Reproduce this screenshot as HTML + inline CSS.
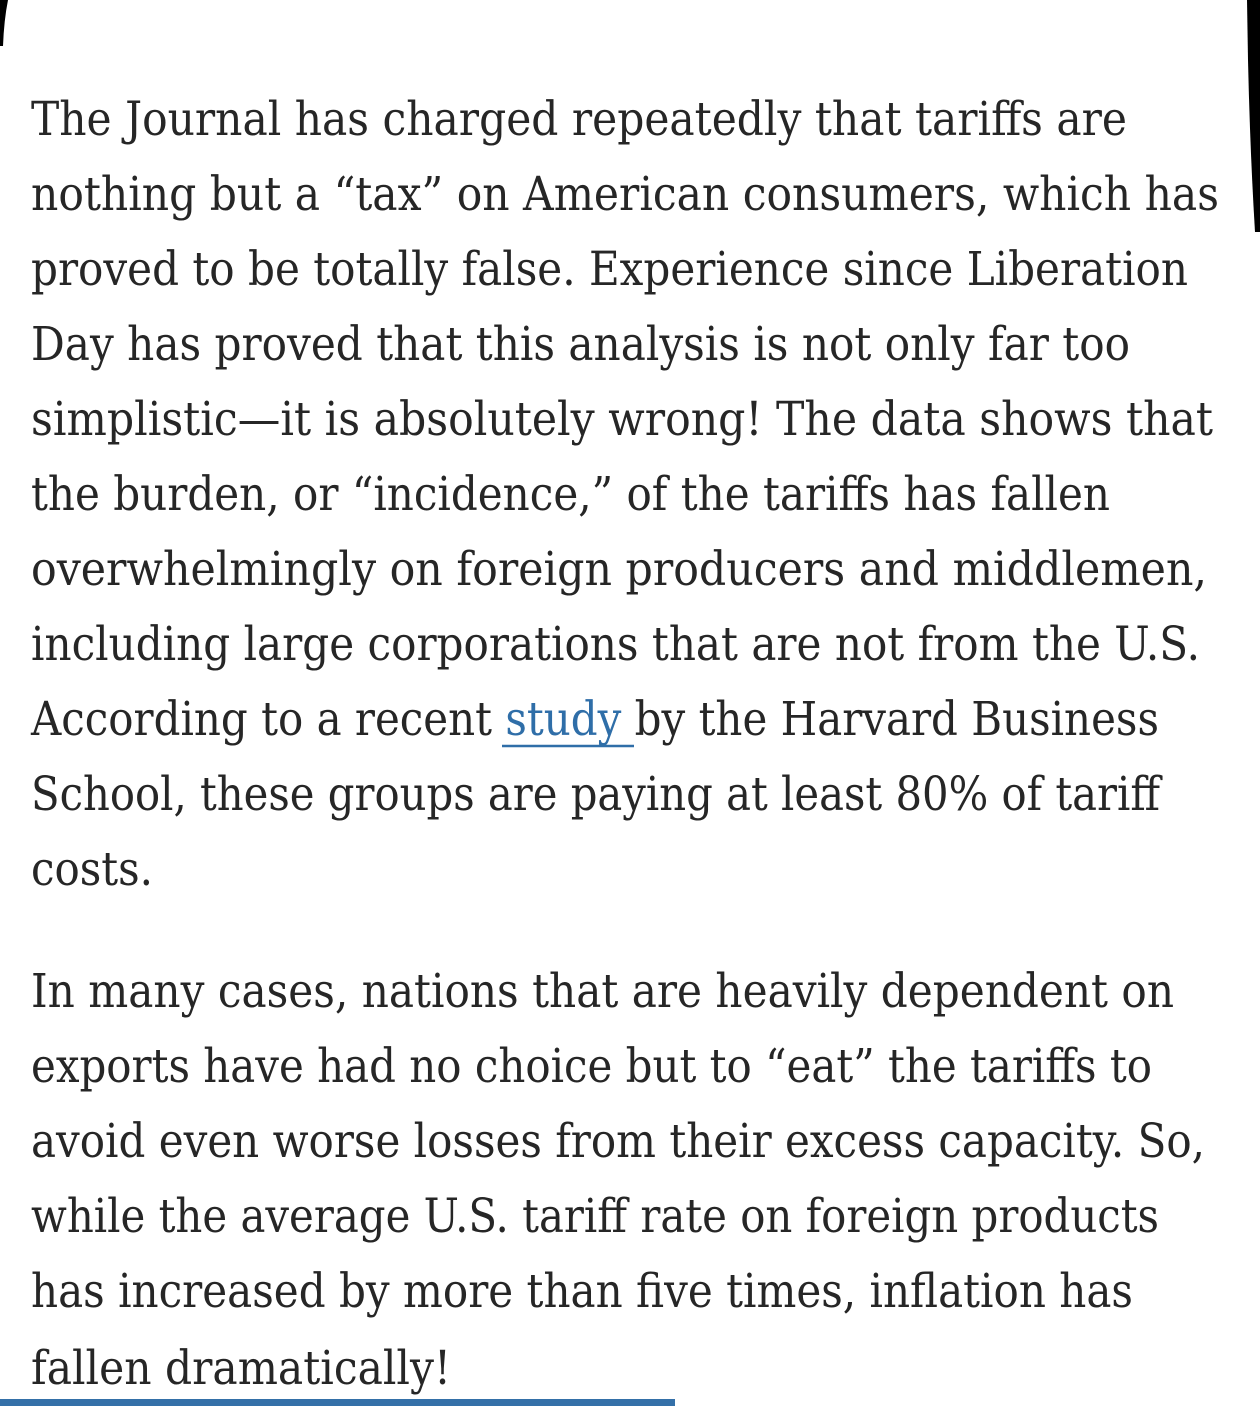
<!DOCTYPE html>
<html><head><meta charset="utf-8"><style>
html,body{margin:0;padding:0;background:#fff;width:1260px;height:1406px;overflow:hidden}
svg{display:block}
text{font-family:"DejaVu Serif","Liberation Serif",serif;font-size:47px;fill:#262626}
</style></head><body>
<svg width="1260" height="1406" viewBox="0 0 1260 1406" xmlns="http://www.w3.org/2000/svg">
<rect width="1260" height="1406" fill="#fff"/>
<path d="M0,0 L8,0 Q4,20 3,46 L0,46 Z" fill="#000"/>
<path d="M1247,0 L1260,0 L1260,232 L1255,232 Q1250,150 1248,60 Z" fill="#000"/>
<text x="31" y="135" textLength="1096" lengthAdjust="spacingAndGlyphs">The Journal has charged repeatedly that tariffs are</text>
<text x="31" y="210" textLength="1188" lengthAdjust="spacingAndGlyphs">nothing but a “tax” on American consumers, which has</text>
<text x="31" y="285" textLength="1157" lengthAdjust="spacingAndGlyphs">proved to be totally false. Experience since Liberation</text>
<text x="31" y="360" textLength="1099" lengthAdjust="spacingAndGlyphs">Day has proved that this analysis is not only far too</text>
<text x="31" y="435" textLength="1182" lengthAdjust="spacingAndGlyphs">simplistic—it is absolutely wrong! The data shows that</text>
<text x="31" y="510" textLength="1079" lengthAdjust="spacingAndGlyphs">the burden, or “incidence,” of the tariffs has fallen</text>
<text x="31" y="585" textLength="1176" lengthAdjust="spacingAndGlyphs">overwhelmingly on foreign producers and middlemen,</text>
<text x="31" y="660" textLength="1169" lengthAdjust="spacingAndGlyphs">including large corporations that are not from the U.S.</text>
<text x="31" y="735" textLength="1128" lengthAdjust="spacingAndGlyphs">According to a recent <tspan fill="#2f6ea8">study </tspan>by the Harvard Business</text>
<line x1="502" y1="746" x2="634" y2="746" stroke="#2f6ea8" stroke-width="2.5"/>
<text x="31" y="810" textLength="1129" lengthAdjust="spacingAndGlyphs">School, these groups are paying at least 80% of tariff</text>
<text x="31" y="885" textLength="122" lengthAdjust="spacingAndGlyphs">costs.</text>
<text x="31" y="1007" textLength="1143" lengthAdjust="spacingAndGlyphs">In many cases, nations that are heavily dependent on</text>
<text x="31" y="1082" textLength="1121" lengthAdjust="spacingAndGlyphs">exports have had no choice but to “eat” the tariffs to</text>
<text x="31" y="1157" textLength="1174" lengthAdjust="spacingAndGlyphs">avoid even worse losses from their excess capacity. So,</text>
<text x="31" y="1232" textLength="1128" lengthAdjust="spacingAndGlyphs">while the average U.S. tariff rate on foreign products</text>
<text x="31" y="1307" textLength="1102" lengthAdjust="spacingAndGlyphs">has increased by more than five times, inflation has</text>
<text x="31" y="1384" textLength="420" lengthAdjust="spacingAndGlyphs">fallen dramatically!</text>
<rect x="0" y="1399" width="675" height="7" fill="#3470a8"/>
</svg>
</body></html>
